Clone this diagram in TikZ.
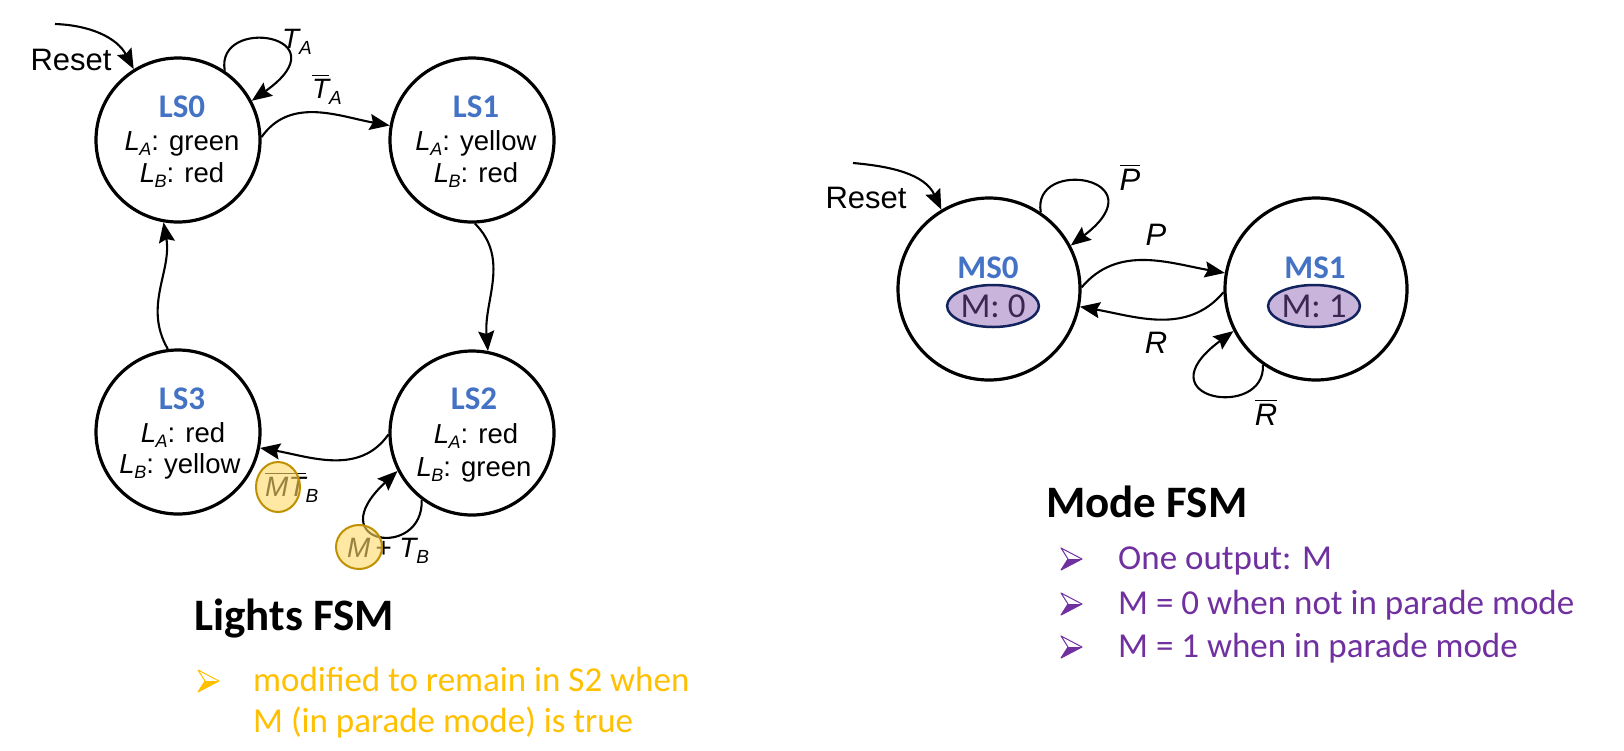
\documentclass[tikz,border=0pt]{standalone}
\usepackage{fontspec}
\setmainfont{Liberation Sans}
\newfontfamily\carl{Carlito}
\usetikzlibrary{arrows.meta,calc,shapes.geometric}
\definecolor{stblue}{HTML}{4472C4}
\definecolor{gold}{HTML}{FFC000}
\definecolor{purp}{HTML}{7030A0}
\definecolor{mfill}{HTML}{C9B5DC}
\definecolor{mdraw}{HTML}{12235E}
\definecolor{mtext}{HTML}{3D2650}
\definecolor{hlfill}{HTML}{FFD966}
\definecolor{hldraw}{HTML}{BF9000}
\newcommand\ovl[1]{\leavevmode\vbox{\hrule height 1.6pt\kern 2.5pt\hbox{#1}}}
\newcommand\LL[2]{\textit{#1}\kern-0.5pt\raisebox{-5pt}{\fontsize{18}{18}\selectfont\textit{#2}}}
\newcommand\sbb[1]{\raisebox{-6pt}{\fontsize{19}{19}\selectfont\textit{#1}}}
\newcommand\arrbul[3]{%
  \begin{scope}[shift={(#1,#2)}]
    \fill[#3] (11,0) -- (-3,0) -- (-10,11) -- cycle;
    \draw[#3, line width=1pt, line join=round] (11,0) -- (-10,-11) -- (-3,0) -- (-10,11) -- cycle;
  \end{scope}}
\begin{document}
\begin{tikzpicture}[x=1pt,y=-1pt,
  state/.style={circle, draw, line width=3.2pt, minimum size=164pt, inner sep=0pt},
  mstate/.style={circle, draw, line width=3.2pt, minimum size=182pt, inner sep=0pt},
  tr/.style={draw, line width=2.1pt, -{Stealth[length=20pt,width=16pt,inset=3pt]}},
  sname/.style={anchor=base, font=\carl\bfseries\fontsize{33}{33}\selectfont, text=stblue},
  stxt/.style={anchor=base, font=\fontsize{27.5}{27.5}\selectfont},
  lab/.style={anchor=base, font=\fontsize{28}{28}\selectfont\itshape, inner sep=0pt},
  plab/.style={anchor=base, font=\fontsize{31}{31}\selectfont\itshape, inner sep=0pt},
  rst/.style={anchor=base, font=\fontsize{31}{31}\selectfont, inner sep=0pt},
  mbox/.style={ellipse, draw=mdraw, line width=2.5pt, fill=mfill, minimum width=86pt, minimum height=42pt, inner sep=0pt, text=mtext, font=\carl\fontsize{35}{35}\selectfont},
  hl/.style={ellipse, draw=hldraw, line width=2pt, fill=hlfill, fill opacity=0.6, minimum width=44pt, minimum height=50pt, inner sep=0pt},
  title/.style={anchor=base west, font=\carl\bfseries\fontsize{45}{45}\selectfont, inner sep=0pt},
  btxt/.style={anchor=base west, font=\carl\fontsize{35}{35}\selectfont, inner sep=0pt}
]
\useasboundingbox (0,0) rectangle (1624,750);
\fill[white] (0,0) rectangle (1624,750);

% ---------------- Lights FSM ----------------
\node[state] (LS0) at (178,140) {};
\node[state] (LS1) at (472,140) {};
\node[state] (LS2) at (472,433) {};
\node[state] (LS3) at (178,432) {};

\node[sname] (n0) at (182,117) {LS0};
\node[stxt] (a0) at (182,150) {\LL{L}{A}: green};
\node[stxt] (b0) at (182,182) {\LL{L}{B}: red};
\node[sname] (n1) at (476,117) {LS1};
\node[stxt] (a1) at (476,150) {\LL{L}{A}: yellow};
\node[stxt] (b1) at (476,182) {\LL{L}{B}: red};
\node[sname] (n2) at (474,409) {LS2};
\node[stxt] (a2) at (476,443) {\LL{L}{A}: red};
\node[stxt] (b2) at (474,476) {\LL{L}{B}: green};
\node[sname] (n3) at (182,409) {LS3};
\node[stxt] (a3) at (183,442) {\LL{L}{A}: red};
\node[stxt] (b3) at (180,473) {\LL{L}{B}: yellow};

\node[rst] (reset1) at (71,70) {Reset};
\coordinate (r1s) at (55,24);
\draw[tr] (r1s) to[out=-2,in=118] (LS0.122);

\draw[tr] (LS0.56) .. controls (215,15) and (345,35) .. (LS0.28);
\node[lab] (lTA) at (297,48) {T\sbb{A}};

\draw[tr] (LS0.2) to[out=55,in=170] (LS1.170);
\node[lab] (lTAb) at (327,98) {\ovl{T}\sbb{A}};

\draw[tr] (LS1.-88) to[out=-45,in=95] (LS2.79);

\draw[tr] (LS2.181) to[out=235,in=-10] (LS3.-11);
\node[lab, anchor=base west] (lMT) at (265,496) {\ovl{M}\ovl{T}\sbb{B}};
\node[hl] (hMT) at (278,487) {};

\draw[tr] (LS3.97) to[out=120,in=-80] (LS0.-100);

\draw[tr] (LS2.233) .. controls (424,560) and (318,545) .. (LS2.207);
\node[lab, anchor=base west] (lMTB) at (347,557) {M\,+ T\sbb{B}};
\node[hl, minimum width=46pt, minimum height=44pt] (hM) at (359,547) {};

\node[title] (t1) at (194,630) {Lights FSM};
\arrbul{208}{681}{gold}
\node[btxt, text=gold] (l1) at (253,691) {modified to remain in S2 when};
\node[btxt, text=gold] (l2) at (253,732) {M (in parade mode) is true};

% ---------------- Mode FSM ----------------
\node[mstate] (MS0) at (989,289) {};
\node[mstate] (MS1) at (1316,289) {};
\node[sname] (m0) at (988,278) {MS0};
\node[mbox] (M0) at (993,306) {M: 0};
\node[sname] (m1) at (1315,278) {MS1};
\node[mbox] (M1) at (1314,306) {M: 1};

\node[rst] (reset2) at (866,208) {Reset};
\coordinate (r2s) at (853,163);
\draw[tr] (r2s) to[out=-5,in=115] (MS0.121);

\draw[tr] (MS0.56) .. controls (1031,157) and (1161,177) .. (MS0.28);
\node[plab] (lPb) at (1130,190) {\ovl{P}};

\draw[tr] (MS0.1) to[out=50,in=170] (MS1.170);
\node[plab] (lP) at (1156,245) {P};

\draw[tr] (MS1.182) to[out=230,in=-10] (MS0.-11);
\node[plab] (lR) at (1156,353) {R};

\draw[tr] (MS1.235) .. controls (1266,420) and (1140,400) .. (MS1.207);
\node[plab] (lRb) at (1266,425) {\ovl{R}};

\node[title] (t2) at (1046,517) {Mode FSM};
\arrbul{1071}{559}{purp}
\arrbul{1071}{604}{purp}
\arrbul{1071}{647}{purp}
\node[btxt, text=purp] (k1) at (1118,569) {One output: M};
\node[btxt, text=purp] (k2) at (1118,614) {M = 0 when not in parade mode};
\node[btxt, text=purp] (k3) at (1118,657) {M = 1 when in parade mode};
\end{tikzpicture}
\end{document}
